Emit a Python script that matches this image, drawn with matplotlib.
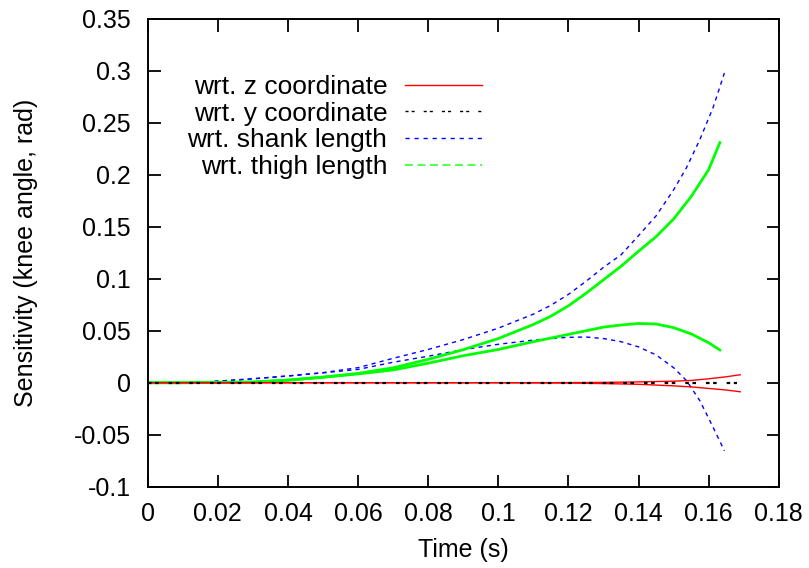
import matplotlib
matplotlib.use("Agg")
import matplotlib.pyplot as plt
from matplotlib.lines import Line2D

plt.rcParams['font.family'] = ['Liberation Sans', 'DejaVu Sans']

# sensitivity wrt. z coordinate (two curves)
t_z = [0.0, 0.02, 0.04, 0.06, 0.08, 0.10, 0.12, 0.13, 0.14, 0.15, 0.155, 0.16, 0.165, 0.169]
z_a = [0.0, 0.0, 0.0, 0.0, 0.0, 0.0, 0.0001, 0.0003, 0.0008, 0.0015, 0.0022, 0.0038, 0.0057, 0.0077]
z_b = [0.0, 0.0, 0.0, 0.0, 0.0, 0.0, -0.0003, -0.0008, -0.0015, -0.003, -0.004, -0.0055, -0.007, -0.0087]

# sensitivity wrt. y coordinate
t_y = [0.0, 0.04, 0.08, 0.12, 0.16, 0.168]
y_a = [0.0, 0.0, 0.0, 0.0, 0.0, 0.0]

# sensitivity wrt. shank length (two curves)
t_sh = [0.0, 0.01, 0.015, 0.02, 0.03, 0.04, 0.05, 0.06, 0.07, 0.08, 0.09, 0.10, 0.11, 0.115, 0.12,
        0.125, 0.13, 0.135, 0.14, 0.145, 0.15, 0.1537, 0.1575, 0.1613, 0.1645]
sh_a = [0.0, 0.0, 0.0005, 0.0015, 0.0038, 0.0065, 0.0097, 0.0145, 0.0235, 0.032, 0.0415, 0.0525, 0.066, 0.0745, 0.085,
        0.0975, 0.111, 0.123, 0.1415, 0.1605, 0.1855, 0.207, 0.234, 0.265, 0.298]
sh_b = [0.0, 0.0, 0.0005, 0.0015, 0.0038, 0.0065, 0.0095, 0.0128, 0.0197, 0.0255, 0.0318, 0.037, 0.041, 0.0425, 0.0437,
        0.044, 0.0425, 0.0395, 0.0345, 0.0268, 0.0145, 0.002, -0.0173, -0.043, -0.0655]

# sensitivity wrt. thigh length (two curves)
t_th = [0.0, 0.01, 0.02, 0.03, 0.04, 0.05, 0.06, 0.07, 0.08, 0.09, 0.10, 0.11, 0.115, 0.12, 0.125, 0.13,
        0.135, 0.14, 0.145, 0.15, 0.155, 0.16, 0.1632]
th_a = [0.0, 0.0, 0.0003, 0.0006, 0.0025, 0.0053, 0.009, 0.0143, 0.0225, 0.0318, 0.0425, 0.056, 0.064, 0.074, 0.086, 0.099,
        0.112, 0.1265, 0.1405, 0.1575, 0.179, 0.205, 0.231]
th_b = [0.0, 0.0, 0.0003, 0.0006, 0.0025, 0.0053, 0.0085, 0.0123, 0.0188, 0.026, 0.032, 0.0395, 0.043, 0.0465, 0.050, 0.0535,
        0.0555, 0.057, 0.0565, 0.053, 0.047, 0.0385, 0.0315]

labels = ['wrt. z coordinate', 'wrt. y coordinate', 'wrt. shank length', 'wrt. thigh length']

fig = plt.figure(figsize=(8.09, 5.68), dpi=100)
ax = fig.add_axes([0.1826, 0.1432, 0.7800, 0.8234])

ax.plot(t_sh, sh_a, color='#0000ff', lw=1.0, dashes=(3, 3))
ax.plot(t_sh, sh_b, color='#0000ff', lw=1.0, dashes=(3, 3))
ax.plot(t_th, th_a, color='#00ff00', lw=2.0)
ax.plot(t_th, th_b, color='#00ff00', lw=2.0)
ax.plot(t_z, z_a, color='#ff0000', lw=1.0)
ax.plot(t_z, z_b, color='#ff0000', lw=1.0)
ax.plot(t_y, y_a, color='black', lw=1.6, dashes=(1.6, 1.6, 1.6, 4.5))

ax.set_xlim(0, 0.18)
ax.set_ylim(-0.1, 0.35)
xt = [0, 0.02, 0.04, 0.06, 0.08, 0.1, 0.12, 0.14, 0.16, 0.18]
yt = [-0.1, -0.05, 0, 0.05, 0.1, 0.15, 0.2, 0.25, 0.3, 0.35]
ax.set_xticks(xt)
ax.set_xticklabels(['%g' % v for v in xt])
ax.set_yticks(yt)
ax.set_yticklabels(['%g' % v for v in yt])
ax.tick_params(direction='in', length=9, width=1.3, top=True, right=True, labelsize=18)
ax.tick_params(axis='x', pad=11)
ax.tick_params(axis='y', pad=12)
for s in ax.spines.values():
    s.set_linewidth(1.4)

ax.set_xlabel('Time (s)', fontsize=18, labelpad=9)
ax.set_ylabel('Sensitivity (knee angle, rad)', fontsize=18, labelpad=26)

# gnuplot style key: text right-aligned, sample on the right
handles = [Line2D([], [], color='#ff0000', lw=1.0),
           Line2D([], [], color='black', lw=1.0, dashes=(2.2, 2.2, 2.2, 6.5)),
           Line2D([], [], color='#0000ff', lw=1.0, dashes=(3, 3.5)),
           Line2D([], [], color='#55ff55', lw=1.5, dashes=(3.8, 2.2))]
ax.legend(handles, labels, loc='upper right', bbox_to_anchor=(0.529, 0.880), frameon=False,
          markerfirst=False, fontsize=19, handlelength=2.9, handletextpad=0.67,
          labelspacing=0.1, borderaxespad=0, borderpad=0)

fig.savefig('out.png', dpi=100)
